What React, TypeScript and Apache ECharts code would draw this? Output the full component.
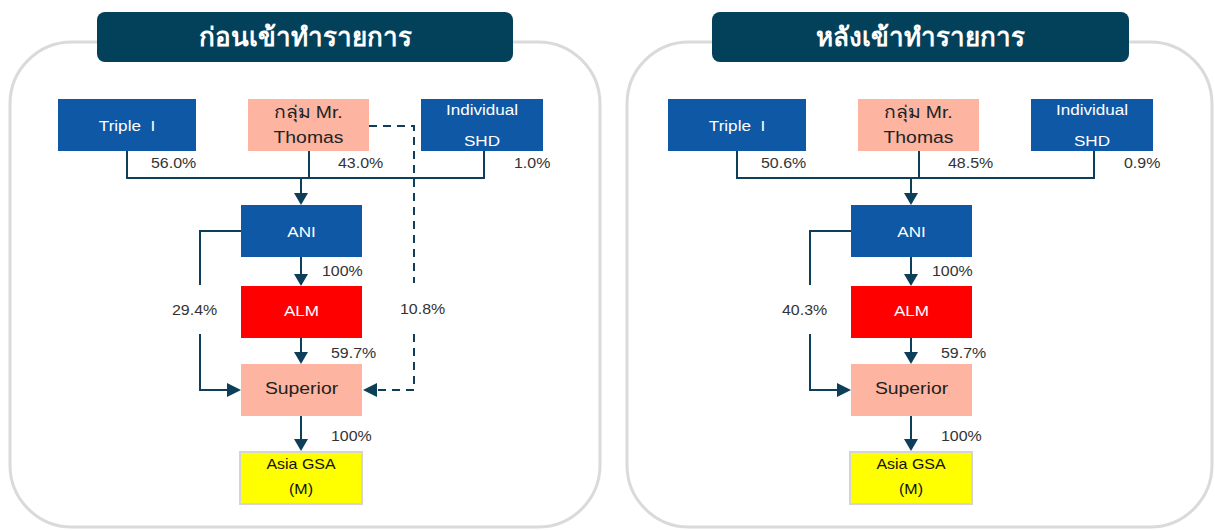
import React, { useEffect, useRef } from "react";
import * as echarts from "echarts";

// ---- data ----
const PANEL_TITLES = ["ก่อนเข้าทำรายการ", "หลังเข้าทำรายการ"];
const SHAREHOLDERS = ["Triple  I", "กลุ่ม Mr.\nThomas", "Individual\nSHD"];
const TOP_PCT_BEFORE = ["56.0%", "43.0%", "1.0%"];
const TOP_PCT_AFTER = ["50.6%", "48.5%", "0.9%"];
const CHAIN = ["ANI", "ALM", "Superior", "Asia GSA\n(M)"];
const CHAIN_PCT_BEFORE = ["100%", "59.7%", "100%"];
const CHAIN_PCT_AFTER = ["100%", "59.7%", "100%"];
const BYPASS_PCT = ["29.4%", "40.3%"]; // ANI -> Superior
const DIRECT_PCT = ["10.8%", ""]; // Mr. Thomas -> Superior (before only)

// ---- styles ----
const FONT = "'Liberation Sans', Arial, 'Noto Sans', sans-serif";
const BLUE = "#0e58a5";
const SALMON = "#fdb4a0";
const RED = "#ff0000";
const YELLOW = "#ffff00";
const TITLE_BG = "#03415b";
const LINE = "#0d3f5a";
const BORDER = "#dadada";
const PCT_COLOR = "#333333";
const SX = 1.14; // horizontal stretch of the source's text

function arrowDown(x: number, yTip: number) {
  return {
    type: "polygon",
    shape: { points: [[x - 7, yTip - 12], [x + 7, yTip - 12], [x, yTip]] },
    style: { fill: LINE },
    z: 5,
  };
}
function arrowRight(xTip: number, y: number) {
  return {
    type: "polygon",
    shape: { points: [[xTip - 14, y - 7], [xTip - 14, y + 7], [xTip, y]] },
    style: { fill: LINE },
    z: 5,
  };
}
function arrowLeft(xTip: number, y: number) {
  return {
    type: "polygon",
    shape: { points: [[xTip + 14, y - 7], [xTip + 14, y + 7], [xTip, y]] },
    style: { fill: LINE },
    z: 5,
  };
}
function line(points: number[][], dashed = false) {
  return {
    type: "polyline",
    shape: { points },
    style: { stroke: LINE, lineWidth: 2, fill: null, lineDash: dashed ? [8, 6] : null },
    z: 4,
  };
}
function box(x: number, y: number, w: number, h: number, fill: string, label: string, color: string, size: number, lh: number, dy = 0, stroke?: string) {
  return [
    {
      type: "rect",
      shape: { x, y, width: w, height: h },
      style: { fill, stroke: stroke || null, lineWidth: stroke ? 2 : 0 },
      z: 3,
    },
    {
      type: "text",
      x: x + w / 2,
      y: y + h / 2 + dy,
      scaleX: SX,
      style: {
        text: label,
        fill: color,
        font: `${size}px ${FONT}`,
        lineHeight: lh,
        textAlign: "center",
        textVerticalAlign: "middle",
      },
      z: 6,
    },
  ];
}
function pct(x: number, y: number, t: string) {
  return {
    type: "text",
    x,
    y,
    scaleX: SX,
    style: { text: t, fill: PCT_COLOR, font: `14px ${FONT}`, textAlign: "left", textVerticalAlign: "middle" },
    z: 6,
  };
}

function panel(i: number, dx: number, outerL: number, outerR: number, titleL: number, titleR: number) {
  const topPct = i === 0 ? TOP_PCT_BEFORE : TOP_PCT_AFTER;
  const chainPct = i === 0 ? CHAIN_PCT_BEFORE : CHAIN_PCT_AFTER;
  const els: any[] = [];
  // outer rounded frame
  els.push({
    type: "rect",
    shape: { x: outerL, y: 42, width: outerR - outerL, height: 485, r: 62 },
    style: { fill: "#ffffff", stroke: BORDER, lineWidth: 3 },
    z: 1,
  });
  // title
  els.push({
    type: "rect",
    shape: { x: titleL, y: 12, width: titleR - titleL, height: 50, r: 8 },
    style: { fill: TITLE_BG },
    z: 2,
  });
  els.push({
    type: "text",
    x: (titleL + titleR) / 2,
    y: 37,
    style: {
      text: PANEL_TITLES[i],
      fill: "#ffffff",
      font: `bold 26px ${FONT}`,
      textAlign: "center",
      textVerticalAlign: "middle",
    },
    z: 3,
  });
  // shareholders
  els.push(...box(dx + 58, 99, 138, 52, BLUE, SHAREHOLDERS[0], "#ffffff", 15, 30));
  els.push(...box(dx + 248, 99, 121, 52, SALMON, SHAREHOLDERS[1], "#222222", 17, 25));
  els.push(...box(dx + 421, 99, 122, 52, BLUE, SHAREHOLDERS[2], "#ffffff", 15, 31));
  // connectors shareholders -> ANI
  els.push(line([[dx + 127, 151], [dx + 127, 178], [dx + 484, 178], [dx + 484, 151]]));
  els.push(line([[dx + 309, 151], [dx + 309, 178]]));
  els.push(line([[dx + 301, 178], [dx + 301, 195]]));
  els.push(arrowDown(dx + 301, 205));
  els.push(pct(dx + 151, 163, topPct[0]));
  els.push(pct(dx + 338, 163, topPct[1]));
  els.push(pct(dx + 514, 163, topPct[2]));
  // chain
  els.push(...box(dx + 241, 205, 121, 52, BLUE, CHAIN[0], "#ffffff", 15, 30));
  els.push(...box(dx + 241, 286, 121, 52, RED, CHAIN[1], "#ffffff", 15, 30, -2));
  els.push(...box(dx + 241, 364, 121, 52, SALMON, CHAIN[2], "#222222", 17, 30, -2));
  els.push(...box(dx + 240, 452, 122, 52, YELLOW, CHAIN[3], "#111111", 14, 25, -2, "#d4d4d4"));
  els.push(line([[dx + 301, 257], [dx + 301, 276]]));
  els.push(arrowDown(dx + 301, 286));
  els.push(pct(dx + 322, 271, chainPct[0]));
  els.push(line([[dx + 301, 338], [dx + 301, 354]]));
  els.push(arrowDown(dx + 301, 364));
  els.push(pct(dx + 331, 353, chainPct[1]));
  els.push(line([[dx + 301, 416], [dx + 301, 440]]));
  els.push(arrowDown(dx + 301, 451));
  els.push(pct(dx + 331, 436, chainPct[2]));
  // bypass ANI -> Superior
  els.push(line([[dx + 241, 231], [dx + 200, 231], [dx + 200, 285]]));
  els.push(line([[dx + 200, 334], [dx + 200, 390], [dx + 228, 390]]));
  els.push(arrowRight(dx + 241, 390));
  els.push(pct(dx + 172, 310, BYPASS_PCT[i]));
  // direct Mr. Thomas -> Superior (dashed)
  if (DIRECT_PCT[i]) {
    els.push(line([[dx + 369, 126], [dx + 414, 126], [dx + 414, 283]], true));
    els.push(line([[dx + 414, 334], [dx + 414, 390], [dx + 376, 390]], true));
    els.push(arrowLeft(dx + 363, 390));
    els.push(pct(dx + 400, 309, DIRECT_PCT[i]));
  }
  return els;
}

export default function App() {
  const ref = useRef<HTMLDivElement>(null);
  useEffect(() => {
    if (!ref.current) return;
    const chart = echarts.init(ref.current, null, { renderer: "svg" });
    const graphic = [
      ...panel(0, 0, 10, 600, 97, 513),
      ...panel(1, 610, 627, 1212, 712, 1129),
    ];
    chart.setOption({
      animation: false,
      backgroundColor: "#ffffff",
      graphic: { elements: graphic },
    });
    return () => chart.dispose();
  }, []);
  return (
    <div
      ref={ref}
      style={{ position: "fixed", left: 0, top: 0, width: 1215, height: 530, background: "#fff" }}
    />
  );
}
